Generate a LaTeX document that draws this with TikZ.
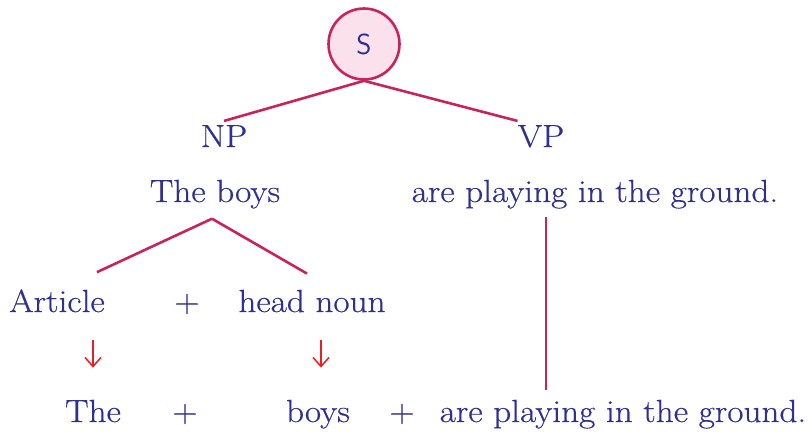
\documentclass[tikz,border=0pt]{standalone}
\usepackage{fontspec}
\setmainfont{Latin Modern Roman}[FakeStretch=1.1,FakeBold=0.5]
\usetikzlibrary{arrows.meta}
\definecolor{txt}{HTML}{2E3192}
\definecolor{ln}{HTML}{C8235C}
\definecolor{pk}{HTML}{FBE1EB}
\definecolor{ar}{HTML}{EE1C25}
\tikzset{
 lbl/.style={text=txt, font=\fontsize{32}{36}\selectfont, inner sep=0pt, anchor=base},
 br/.style={draw=ln, line width=2.6pt},
 dn/.style={draw=ar, line width=1.5pt, -{Straight Barb[length=9pt,width=16pt,line width=1.5pt]}},
}
\begin{document}
\begin{tikzpicture}[x=1pt,y=-1pt]
\useasboundingbox (0,0) rectangle (812,434);
\node[circle, draw=ln, fill=pk, line width=2.6pt, minimum size=71pt, inner sep=0pt, text=txt, font=\sffamily\fontsize{29}{32}\selectfont] (S) at (364,44) {S};
\node[lbl] (NP) at (224,147) {NP};
\node[lbl] (VP) at (541,147) {VP};
\node[lbl] (TB) at (215,202) {The boys};
\node[lbl] (VPT) at (595,202) {are playing in the ground.};
\node[lbl] (Art) at (57,312) {Article};
\node[lbl] (p1) at (187,312) {+};
\node[lbl] (HN) at (312,312) {head noun};
\node[lbl] (The) at (93,422) {The};
\node[lbl] (p2) at (185,422) {+};
\node[lbl] (boys) at (318,422) {boys};
\node[lbl] (p3) at (402,422) {+};
\node[lbl] (APB) at (623,422) {are playing in the ground.};
\draw[br] (S.south) -- ([yshift=4pt]NP.north);
\draw[br] (S.south) -- ([yshift=4pt]VP.north west);
\draw[br] ([xshift=-3pt,yshift=-10pt]TB.south) -- ([xshift=-8pt,yshift=17pt]Art.north east);
\draw[br] ([xshift=-3pt,yshift=-10pt]TB.south) -- ([xshift=-5pt,yshift=16pt]HN.north);
\draw[br] ([xshift=-49pt,yshift=-8pt]VPT.south) -- ([xshift=-77pt,yshift=9.5pt]APB.north);
\draw[dn] ([yshift=60pt]The.north) -- ([yshift=32pt]The.north);
\draw[dn] ([xshift=3pt,yshift=60pt]boys.north) -- ([xshift=3pt,yshift=32pt]boys.north);
\end{tikzpicture}
\end{document}
